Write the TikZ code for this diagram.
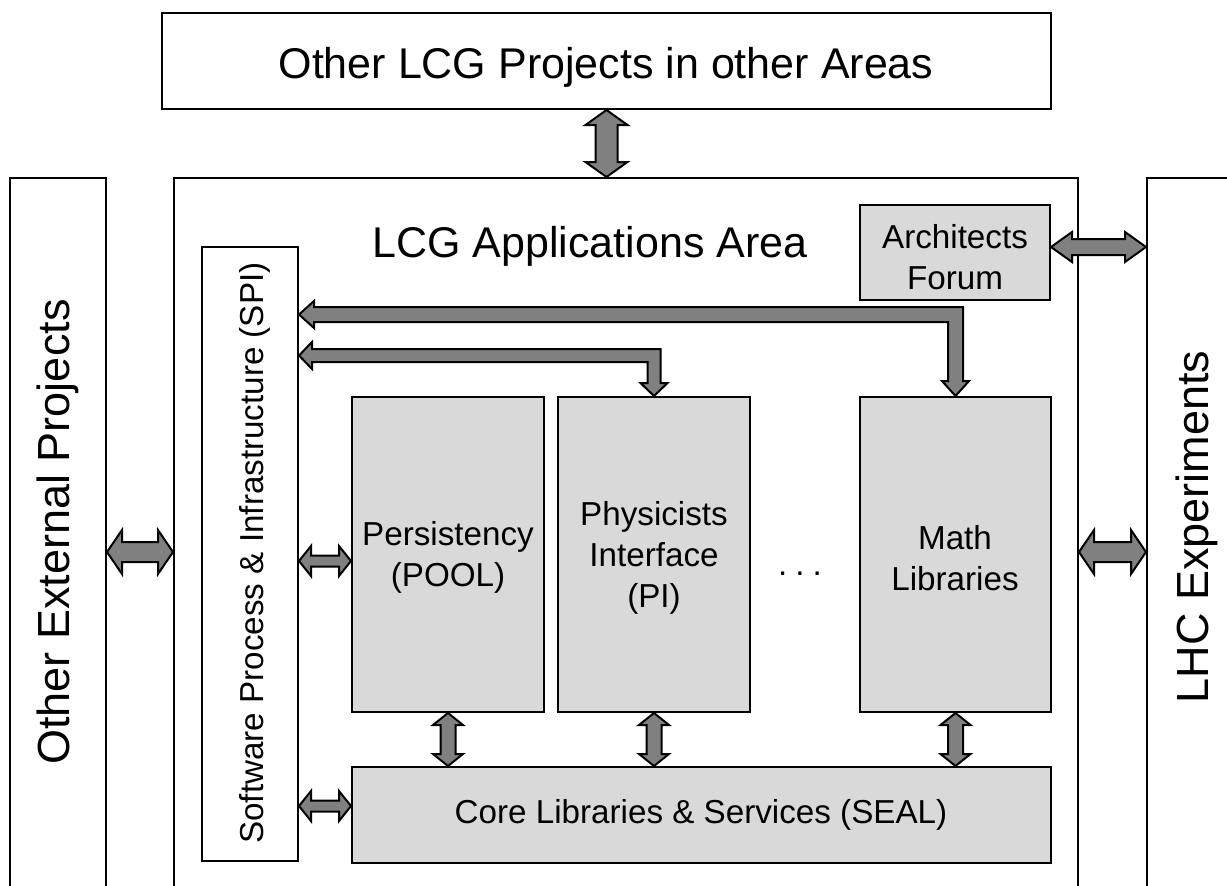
\documentclass[tikz,border=0pt]{standalone}
\usepackage{fontspec}
\setmainfont{Liberation Sans}
\usetikzlibrary{fit,calc}
\definecolor{boxgray}{HTML}{D9D9D9}
\definecolor{arrgray}{HTML}{808080}
\tikzset{
  box/.style={draw=black, line width=1pt, inner sep=0pt, rectangle},
  graybox/.style={box, fill=boxgray},
  barrow/.style={draw=black, fill=arrgray, line width=1pt, line join=miter},
  bigtxt/.style={font=\fontsize{21.5}{26}\selectfont, inner sep=0pt},
  sidetxt/.style={font=\fontsize{22.5}{27}\selectfont, inner sep=0pt, rotate=90},
  smalltxt/.style={font=\fontsize{16.6}{20.5}\selectfont, align=center, inner sep=0pt},
}
% horizontal double block arrow: #1 left tip, #2 right tip (y of #1), #3 half shaft, #4 half head, #5 head length (px)
\newcommand\hdarrow[5]{%
  \path[barrow] let \p1=#1, \p2=#2 in
    (\x1,\y1) -- (\x1+#5*0.5pt,\y1+#4*0.5pt) -- (\x1+#5*0.5pt,\y1+#3*0.5pt)
    -- (\x2-#5*0.5pt,\y1+#3*0.5pt) -- (\x2-#5*0.5pt,\y1+#4*0.5pt) -- (\x2,\y1)
    -- (\x2-#5*0.5pt,\y1-#4*0.5pt) -- (\x2-#5*0.5pt,\y1-#3*0.5pt)
    -- (\x1+#5*0.5pt,\y1-#3*0.5pt) -- (\x1+#5*0.5pt,\y1-#4*0.5pt) -- cycle;}
% vertical double block arrow: #1 top tip, #2 bottom tip (x of #1)
\newcommand\vdarrow[5]{%
  \path[barrow] let \p1=#1, \p2=#2 in
    (\x1,\y1) -- (\x1+#4*0.5pt,\y1-#5*0.5pt) -- (\x1+#3*0.5pt,\y1-#5*0.5pt)
    -- (\x1+#3*0.5pt,\y2+#5*0.5pt) -- (\x1+#4*0.5pt,\y2+#5*0.5pt) -- (\x1,\y2)
    -- (\x1-#4*0.5pt,\y2+#5*0.5pt) -- (\x1-#3*0.5pt,\y2+#5*0.5pt)
    -- (\x1-#3*0.5pt,\y1-#5*0.5pt) -- (\x1-#4*0.5pt,\y1-#5*0.5pt) -- cycle;}
% L-shaped block arrow: #1 left tip, #2 corner (centre), #3 bottom tip
\newcommand\ldarrow[6]{%
  \path[barrow] let \p1=#1, \p2=#2, \p3=#3 in
    (\x1,\y1) -- (\x1+#6*0.5pt,\y1+#5*0.5pt) -- (\x1+#6*0.5pt,\y1+#4*0.5pt)
    -- (\x2+#4*0.5pt,\y1+#4*0.5pt) -- (\x2+#4*0.5pt,\y3+#6*0.5pt)
    -- (\x2+#5*0.5pt,\y3+#6*0.5pt) -- (\x3,\y3) -- (\x2-#5*0.5pt,\y3+#6*0.5pt)
    -- (\x2-#4*0.5pt,\y3+#6*0.5pt) -- (\x2-#4*0.5pt,\y1-#4*0.5pt)
    -- (\x1+#6*0.5pt,\y1-#4*0.5pt) -- (\x1+#6*0.5pt,\y1-#5*0.5pt) -- cycle;}
\begin{document}
\begin{tikzpicture}[x=0.5pt, y=-0.5pt]
\useasboundingbox (0,0) rectangle (1227,885);
\clip (0,0) rectangle (1227,885);
% boxes
\node[box, fit={(162,13) (1051,109)}] (top) {};
\node[box, fit={(10,178) (106,910)}] (ext) {};
\node[box, fit={(174,178) (1078,910)}] (main) {};
\node[box, fit={(1147,178) (1247,910)}] (lhc) {};
\node[box, fit={(202,247) (298,861)}] (spi) {};
\node[graybox, fit={(860,205) (1050,300)}] (af) {};
\node[graybox, fit={(352,397) (544,712)}] (pool) {};
\node[graybox, fit={(558,397) (750,712)}] (pi) {};
\node[graybox, fit={(860,397) (1051,712)}] (math) {};
\node[graybox, fit={(352,767) (1051,863)}] (seal) {};
% texts
\node[bigtxt, anchor=base] (toptxt) at (606,78) {Other LCG Projects in other Areas};
\node[bigtxt, anchor=base] (maintxt) at (590,257) {LCG Applications Area};
\node[sidetxt] (exttxt) at (58,532) {Other External Projects};
\node[sidetxt] (lhctxt) at (1197,527) {LHC Experiments};
\node[smalltxt, rotate=90] (spitxt) at (255,553) {Software Process \& Infrastructure (SPI)};
\node[smalltxt] (aftxt) at (955,257) {Architects\\Forum};
\node[smalltxt] (pooltxt) at (448,557) {Persistency\\(POOL)};
\node[smalltxt] (pitxt) at (654,558) {Physicists\\Interface\\(PI)};
\node[smalltxt] (mathtxt) at (955,558) {Math\\Libraries};
\node[smalltxt] (sealtxt) at (701,815) {Core Libraries \& Services (SEAL)};
\node[smalltxt, anchor=base] (dots) at (800,575) {.\hspace{4pt}.\hspace{4pt}.};
% helper coordinates for arrow heights
\coordinate (yA) at (0,552);
\coordinate (yB) at (0,247);
\coordinate (yC) at (0,561);
\coordinate (yD) at (0,806);
\coordinate (yE) at (0,314.5);
\coordinate (yF) at (0,355.5);
% connectors
\vdarrow{(top.south)}{(top.south |- main.north)}{11}{21}{15}
\hdarrow{(ext.east |- yA)}{(main.west)}{10}{22}{15}
\hdarrow{(main.east |- yA)}{(lhc.west)}{10}{22}{15}
\hdarrow{(af.east |- yB)}{(lhc.west)}{8}{15}{21}
\hdarrow{(spi.east |- yC)}{(pool.west)}{5.5}{15}{12}
\hdarrow{(spi.east |- yD)}{(seal.west)}{5.5}{15}{12}
\vdarrow{(pool.south)}{(seal.north)}{7.5}{15}{12}
\vdarrow{(pi.south)}{(seal.north)}{7.5}{15}{12}
\vdarrow{(math.south)}{(seal.north)}{7.5}{15}{12}
\ldarrow{(spi.east |- yE)}{(math.north |- yE)}{(math.north)}{7.5}{13.5}{15}
\ldarrow{(spi.east |- yF)}{(pi.north |- yF)}{(pi.north)}{6.5}{13.5}{13}
\end{tikzpicture}
\end{document}
